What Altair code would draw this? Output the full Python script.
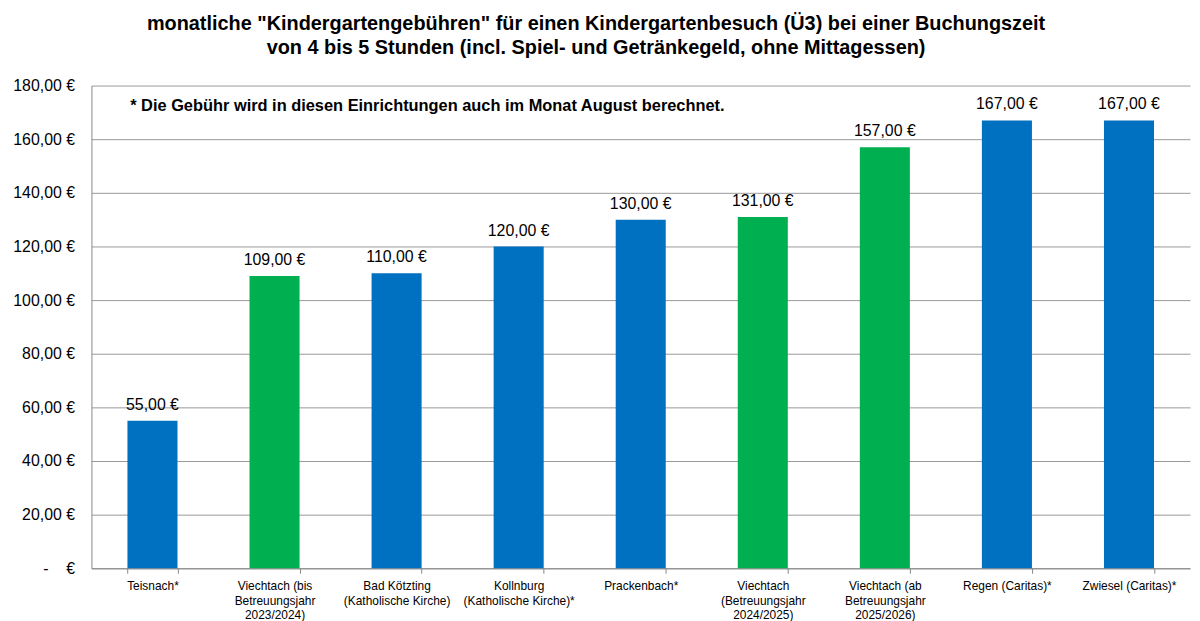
import altair as alt
import pandas as pd

categories = [
    "Teisnach*",
    "Viechtach (bis|Betreuungsjahr|2023/2024)",
    "Bad Kötzting|(Katholische Kirche)",
    "Kollnburg|(Katholische Kirche)*",
    "Prackenbach*",
    "Viechtach|(Betreuungsjahr|2024/2025)",
    "Viechtach (ab|Betreuungsjahr|2025/2026)",
    "Regen (Caritas)*",
    "Zwiesel (Caritas)*",
]
fees = [55, 109, 110, 120, 130, 131, 157, 167, 167]
groups = ["other", "viechtach", "other", "other", "other", "viechtach", "viechtach", "other", "other"]

df = pd.DataFrame({"cat": categories, "fee": fees, "group": groups})
df["label"] = df["fee"].map(lambda v: f"{v:.2f}".replace(".", ",") + " €")

FONT = "Liberation Sans"

x = alt.X("cat:N", sort=None, title=None,
          scale=alt.Scale(paddingInner=0.59, paddingOuter=0.295),
          axis=alt.Axis(labelAngle=0, labelExpr="split(datum.label, '|')",
                        labelFont=FONT, labelFontSize=12, labelColor="#000",
                        labelLineHeight=15, labelPadding=7,
                        tickBand="extent", tickSize=5, tickColor="#888",
                        domainColor="#888", grid=False, labelLimit=200))
y = alt.Y("fee:Q", title=None,
          scale=alt.Scale(domain=[0, 180]),
          axis=alt.Axis(values=list(range(0, 181, 20)),
                        labelExpr="datum.value == 0 ? '-\u00a0\u00a0\u00a0\u00a0€' : replace(format(datum.value, '.2f'), '.', ',') + ' €'",
                        labelFont=FONT, labelFontSize=16, labelColor="#000",
                        labelPadding=17, ticks=False,
                        domainColor="#888", gridColor="#999", gridWidth=1))

bars = alt.Chart(df).mark_bar().encode(
    x=x, y=y,
    color=alt.Color("group:N", scale=alt.Scale(domain=["other", "viechtach"], range=["#0070C0", "#00B050"]), legend=None),
)
text = alt.Chart(df).mark_text(font=FONT, fontSize=16, baseline="bottom", dy=-8, color="#000").encode(
    x=alt.X("cat:N", sort=None), y="fee:Q", text="label:N")

note = alt.Chart(pd.DataFrame({"t": ["* Die Gebühr wird in diesen Einrichtungen auch im Monat August berechnet."]})).mark_text(
    font=FONT, fontSize=16.5, fontWeight="bold", align="left", baseline="middle", color="#000"
).encode(x=alt.value(39), y=alt.value(21), text="t:N")

chart = alt.layer(bars, text, note).properties(
    width=1106, height=486,
    title=alt.TitleParams(
        ["monatliche \"Kindergartengebühren\" für einen Kindergartenbesuch (Ü3) bei einer Buchungszeit",
         "von 4 bis 5 Stunden (incl. Spiel- und Getränkegeld, ohne Mittagessen)"],
        font=FONT, fontSize=20, fontWeight="bold", color="#000", anchor="middle", dx=-45,
        lineHeight=24, offset=20),
    autosize=alt.AutoSizeParams(type="none"),
    padding={"left": 84, "top": 76, "right": 2, "bottom": 51},
).configure_view(stroke=None).configure_axis(labelFont=FONT)

chart.save("out.html", embed_options={"renderer": "svg", "actions": False})
